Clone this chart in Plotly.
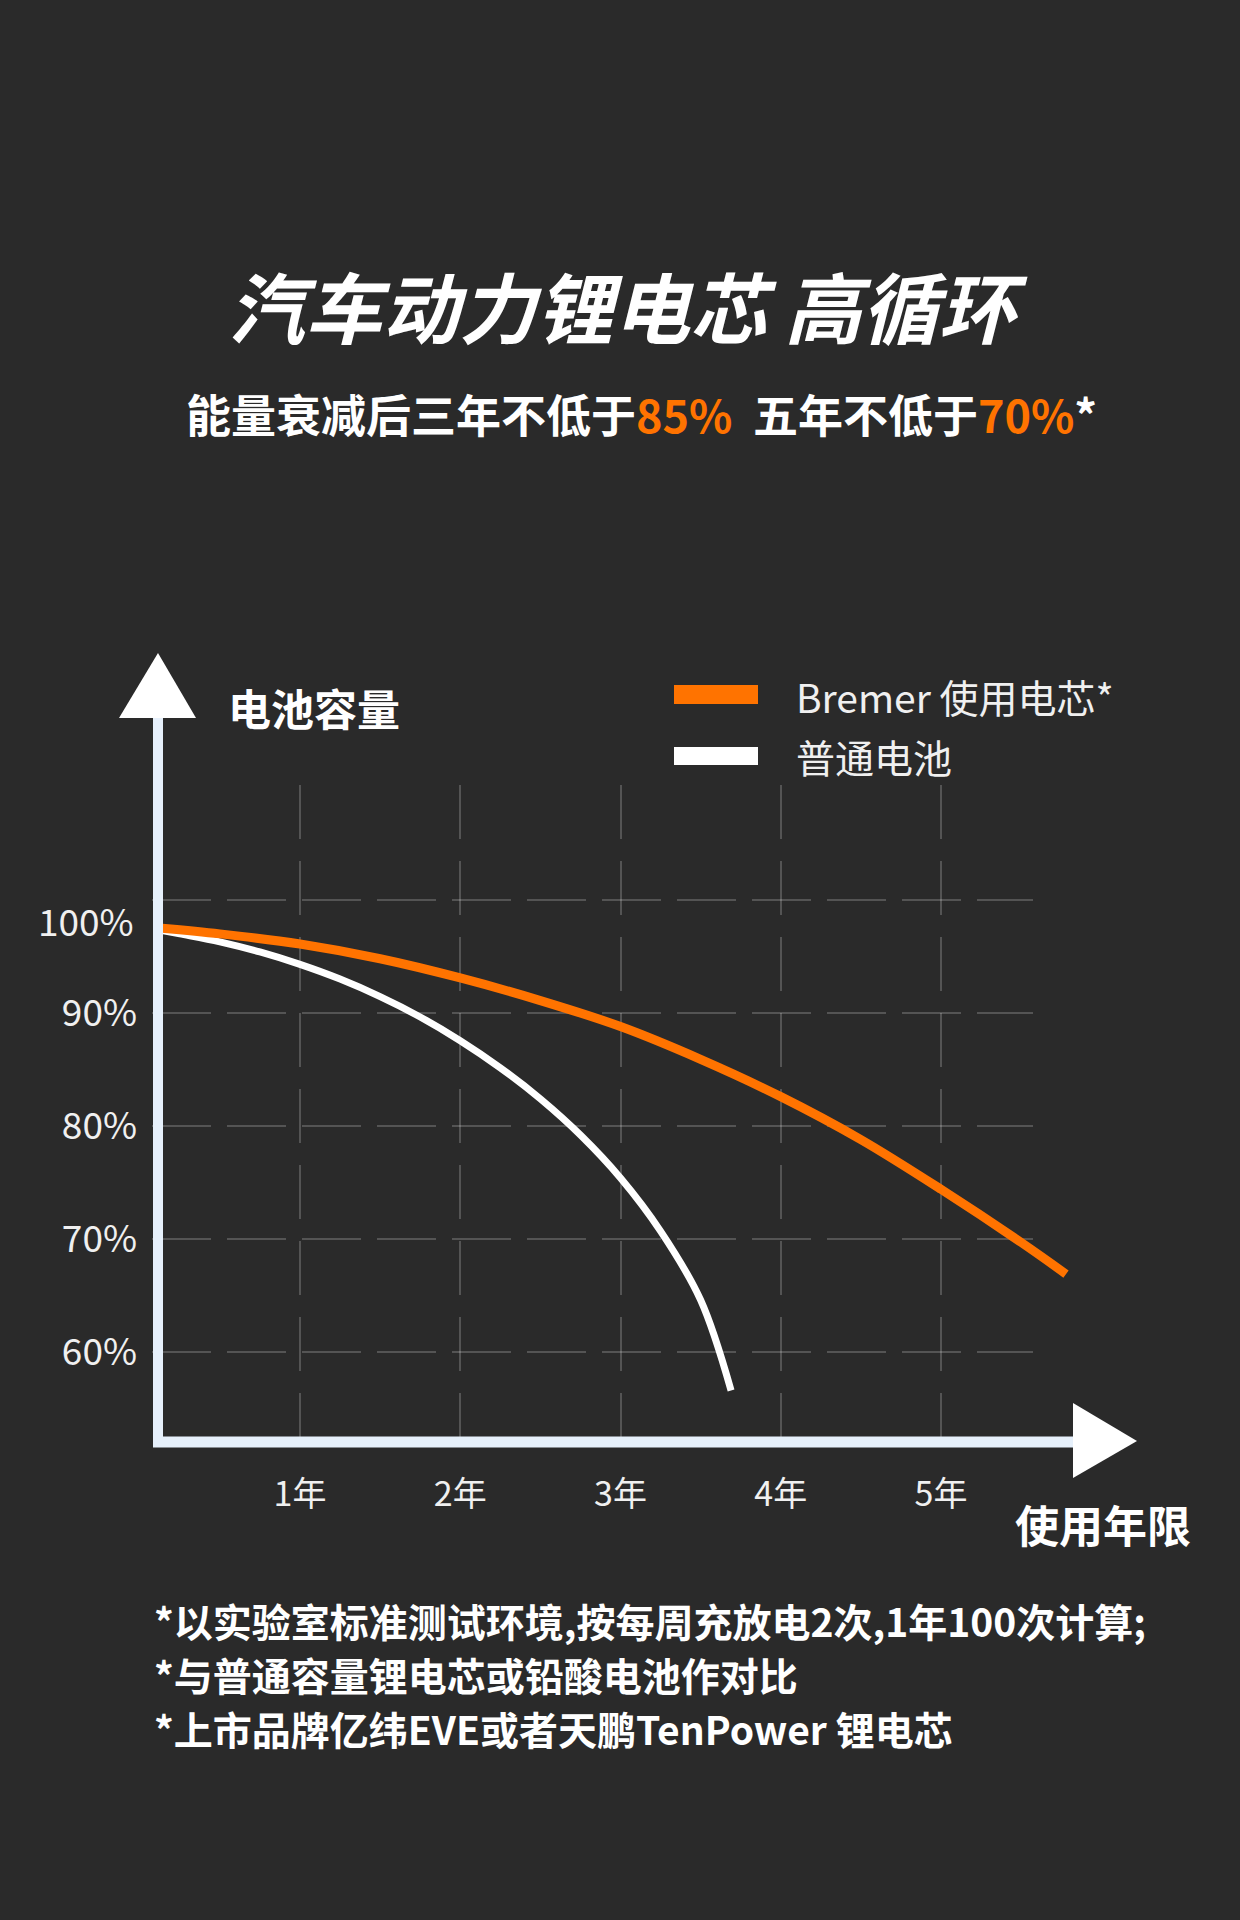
import plotly.graph_objects as go

W, H = 1240, 1920

# ---------------- data ----------------
YEAR_TICKS = [1, 2, 3, 4, 5]
YEAR_LABELS = ["1年", "2年", "3年", "4年", "5年"]
PCT_TICKS = [90, 80, 70, 60]
PCT_LABELS = ["90%", "80%", "70%", "60%"]
GRID_PCT = [100, 90, 80, 70, 60]
START_LABEL = "100%"

SERIES_NAMES = ["Bremer 使用电芯*", "普通电池"]
BREMER_X = [0.14, 0.5, 1.0, 1.5, 2.0, 2.5, 3.0, 3.5, 4.0, 4.5, 5.0, 5.5, 5.78]
BREMER_Y = [97.5, 97.0, 96.1, 94.8, 93.1, 91.1, 88.8, 85.9, 82.6, 78.8, 74.4, 69.7, 66.9]
NORMAL_X = [0.14, 0.25, 0.5, 0.75, 1.0, 1.25, 1.5, 1.75, 2.0, 2.25, 2.5, 2.75, 3.0, 3.25, 3.5, 3.69]
NORMAL_Y = [97.3, 97.0, 96.3, 95.4, 94.3, 93.0, 91.45, 89.65, 87.55, 85.15, 82.4, 79.2, 75.4, 70.7, 64.6, 56.6]

TITLE = "汽车动力锂电芯 高循环"
SUB_A, SUB_B, SUB_C, SUB_D, SUB_E = "能量衰减后三年不低于", "85%", "五年不低于", "70%", "*"
Y_TITLE = "电池容量"
X_TITLE = "使用年限"
NOTES = [
    "*以实验室标准测试环境,按每周充放电2次,1年100次计算;",
    "*与普通容量锂电芯或铅酸电池作对比",
    "*上市品牌亿纬EVE或者天鹏TenPower 锂电芯",
]

# ---------------- style ----------------
BG = "#2a2a2a"
ORANGE = "#ff7300"
WHITE = "#ffffff"
AXIS_COL = "#e6f0fb"
GRID_COL = "rgba(255,255,255,0.20)"
FONT = "Noto Sans CJK SC"
TXT = "#f0f0f0"

# pixel geometry
PX_Y1, PX_Y5 = 300, 941       # pixel x of year 1 / year 5
PY_100, PY_60 = 900, 1352     # pixel y of 100% / 60% grid lines
PL, PR, PT, PB = 158, 1073, 785, 1442   # data plot area
GL, GR = 152, 1033                      # horizontal grid extent


def xval(px):
    return 1 + (px - PX_Y1) * 4 / (PX_Y5 - PX_Y1)


def yval(py):
    return 100 - (py - PY_100) * 40 / (PY_60 - PY_100)


def xp(px):
    return px / W


def yp(py):
    return 1 - py / H


fig = go.Figure()

# invisible trace on grid subplot so it renders
fig.add_trace(go.Scatter(x=[0], y=[80], xaxis="x", yaxis="y", mode="markers",
                         marker=dict(opacity=0), showlegend=False, hoverinfo="skip"))

fig.add_trace(go.Scatter(x=NORMAL_X, y=NORMAL_Y, xaxis="x2", yaxis="y2", mode="lines",
                         line=dict(color=WHITE, width=7, shape="spline", smoothing=1.0),
                         name=SERIES_NAMES[1], showlegend=False, hoverinfo="skip"))
fig.add_trace(go.Scatter(x=BREMER_X, y=BREMER_Y, xaxis="x2", yaxis="y2", mode="lines",
                         line=dict(color=ORANGE, width=9, shape="spline", smoothing=1.0),
                         name=SERIES_NAMES[0], showlegend=False, hoverinfo="skip"))

yrange = [yval(PB), yval(PT)]

fig.update_layout(
    width=W, height=H,
    margin=dict(l=0, r=0, t=0, b=0),
    paper_bgcolor=BG, plot_bgcolor="rgba(0,0,0,0)",
    font=dict(family=FONT, color=TXT),
    showlegend=False,
    # grid subplot (horizontal dashed lines)
    xaxis=dict(domain=[xp(GL), xp(GR)], range=[0, 1], showgrid=False, zeroline=False,
               showticklabels=False, showline=False, ticks="", anchor="y"),
    yaxis=dict(domain=[yp(PB), yp(PT)], range=yrange, tickvals=GRID_PCT, showgrid=True,
               gridcolor=GRID_COL, gridwidth=2, griddash="59px,16px", zeroline=False,
               showticklabels=False, showline=False, ticks="", anchor="x"),
    # data subplot
    xaxis2=dict(domain=[xp(PL), xp(PR)], range=[xval(PL), xval(PR)], tickvals=YEAR_TICKS,
                ticktext=YEAR_LABELS, showgrid=True, gridcolor=GRID_COL, gridwidth=2,
                griddash="54px,22px", zeroline=False, showline=False, ticks="",
                tickfont=dict(size=34, color=TXT, family=FONT), ticklabelstandoff=29,
                anchor="y2"),
    yaxis2=dict(domain=[yp(PB), yp(PT)], range=yrange, tickvals=PCT_TICKS, ticktext=PCT_LABELS,
                showgrid=False, zeroline=False, showline=False, ticks="",
                tickfont=dict(size=37, color=TXT, family=FONT), ticklabelstandoff=20,
                anchor="x2"),
)

shapes = []
# y axis line + arrow
shapes.append(dict(type="line", xref="paper", yref="paper", x0=xp(158), x1=xp(158),
                   y0=yp(1447), y1=yp(716), line=dict(color=AXIS_COL, width=10), layer="above"))
shapes.append(dict(type="path", xref="paper", yref="paper",
                   path=f"M {xp(119)},{yp(718)} L {xp(158)},{yp(653)} L {xp(196)},{yp(718)} Z",
                   fillcolor=WHITE, line=dict(width=0), layer="above"))
# x axis line + arrow
shapes.append(dict(type="line", xref="paper", yref="paper", x0=xp(153), x1=xp(1076),
                   y0=yp(1442), y1=yp(1442), line=dict(color=AXIS_COL, width=11), layer="above"))
shapes.append(dict(type="path", xref="paper", yref="paper",
                   path=f"M {xp(1073)},{yp(1403)} L {xp(1137)},{yp(1441)} L {xp(1073)},{yp(1478)} Z",
                   fillcolor=WHITE, line=dict(width=0), layer="above"))
# legend swatches
shapes.append(dict(type="rect", xref="paper", yref="paper", x0=xp(674), x1=xp(758),
                   y0=yp(704), y1=yp(685), fillcolor=ORANGE, line=dict(width=0)))
shapes.append(dict(type="rect", xref="paper", yref="paper", x0=xp(674), x1=xp(758),
                   y0=yp(765), y1=yp(747), fillcolor=WHITE, line=dict(width=0)))
fig.update_layout(shapes=shapes)

ann = []
ann.append(dict(text=f"<b><i>{TITLE}</i></b>", x=xp(627), y=yp(304), xref="paper", yref="paper",
                showarrow=False, xanchor="center", yanchor="middle",
                font=dict(size=77, color=WHITE, family=FONT, weight=900, style="italic")))
sub = (f"{SUB_A}<span style='color:{ORANGE}'>{SUB_B}</span>\u00a0\u00a0{SUB_C}"
       f"<span style='color:{ORANGE}'>{SUB_D}</span>{SUB_E}")
ann.append(dict(text=f"<b>{sub}</b>", x=xp(641), y=yp(413), xref="paper", yref="paper",
                showarrow=False, xanchor="center", yanchor="middle",
                font=dict(size=45, color=WHITE, family=FONT)))
ann.append(dict(text=f"<b>{Y_TITLE}</b>", x=xp(226), y=yp(707), xref="paper", yref="paper",
                showarrow=False, xanchor="left", yanchor="middle",
                font=dict(size=43, color=WHITE, family=FONT)))
ann.append(dict(text=SERIES_NAMES[0], x=xp(794), y=yp(696), xref="paper", yref="paper",
                showarrow=False, xanchor="left", yanchor="middle",
                font=dict(size=39, color=TXT, family=FONT)))
ann.append(dict(text=SERIES_NAMES[1], x=xp(794), y=yp(756), xref="paper", yref="paper",
                showarrow=False, xanchor="left", yanchor="middle",
                font=dict(size=39, color=TXT, family=FONT)))
ann.append(dict(text=START_LABEL, x=xp(136), y=BREMER_Y[0], xref="paper", yref="y2",
                showarrow=False, xanchor="right", yanchor="middle", yshift=8,
                font=dict(size=37, color=TXT, family=FONT)))
ann.append(dict(text=f"<b>{X_TITLE}</b>", x=xp(1103), y=yp(1524), xref="paper", yref="paper",
                showarrow=False, xanchor="center", yanchor="middle",
                font=dict(size=44, color=WHITE, family=FONT)))
for t, py in zip(NOTES, [1620, 1674, 1728]):
    ann.append(dict(text=f"<b>{t}</b>", x=xp(152), y=yp(py), xref="paper", yref="paper",
                    showarrow=False, xanchor="left", yanchor="middle",
                    font=dict(size=39, color=WHITE, family=FONT)))
fig.update_layout(annotations=ann)

fig.write_html("out.html", config={"displayModeBar": False},
               post_script="document.body.style.margin='0';document.body.style.overflow='hidden';")
